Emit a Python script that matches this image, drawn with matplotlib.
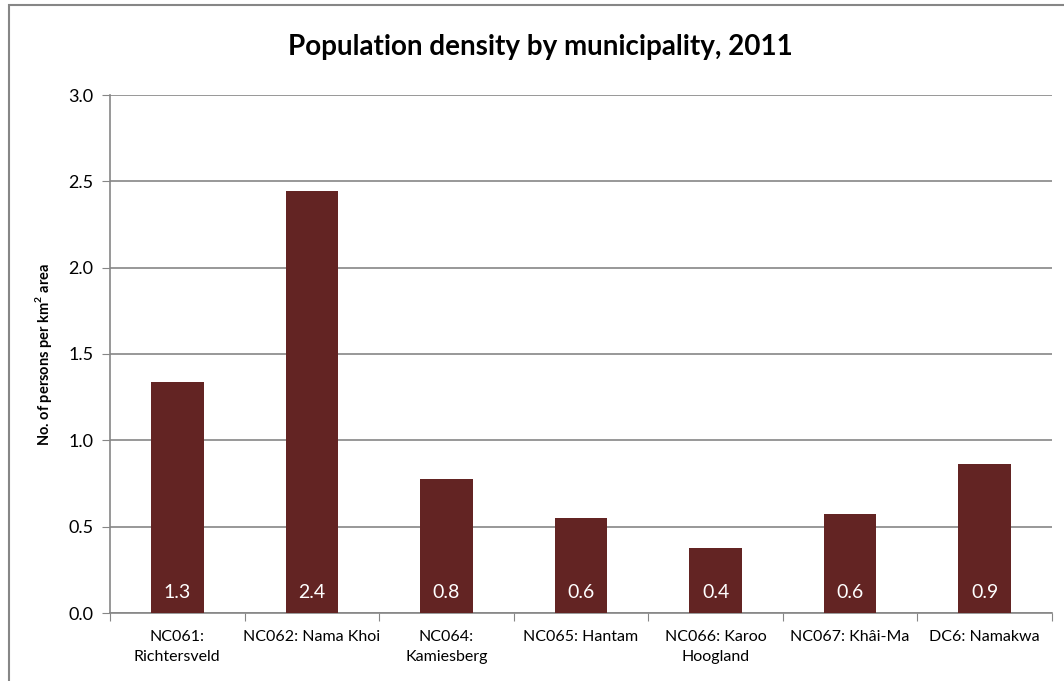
import matplotlib.pyplot as plt
from matplotlib.patches import Rectangle

categories = ['NC061:\nRichtersveld', 'NC062: Nama Khoi', 'NC064:\nKamiesberg',
              'NC065: Hantam', 'NC066: Karoo\nHoogland', 'NC067: Khâi-Ma', 'DC6: Namakwa']
density = [1.338, 2.443, 0.776, 0.55, 0.376, 0.573, 0.863]
bar_labels = ['1.3', '2.4', '0.8', '0.6', '0.4', '0.6', '0.9']

plt.rcParams['font.family'] = ['Lato', 'DejaVu Sans']
grey = '#868686'

fig = plt.figure(figsize=(10.64, 6.81), dpi=100)
W, H = 1064, 681

# outer chart border
fig.patches.append(Rectangle((9 / W, -0.1), 1.2, (681 - 5) / H + 0.1, transform=fig.transFigure,
                             fill=False, edgecolor=grey, linewidth=1.5))

ax = fig.add_axes([110 / W, (H - 613) / H, 942 / W, 518 / H])
x = range(len(categories))
ax.bar(x, density, width=0.39, color='#632423', zorder=3)

for i, lab in enumerate(bar_labels):
    ax.annotate(lab, (i, 0), xytext=(0, 9), textcoords='offset points',
                ha='center', va='bottom', color='white', fontsize=14)

ax.set_xlim(-0.5, len(categories) - 0.5)
ax.set_ylim(0, 3.0)
ax.set_yticks([0, 0.5, 1.0, 1.5, 2.0, 2.5, 3.0])
ax.set_yticklabels(['0.0', '0.5', '1.0', '1.5', '2.0', '2.5', '3.0'], fontsize=13)
ax.yaxis.grid(True, color=grey, linewidth=1.2, zorder=0)

ax.set_xticks([i + 0.5 for i in range(-1, len(categories))], minor=False)
ax.set_xticklabels([])
ax.set_xticks(list(x), minor=True)
ax.set_xticklabels(categories, minor=True, fontsize=11.5, linespacing=1.6)
ax.tick_params(axis='x', which='major', length=6, color=grey)
ax.tick_params(axis='x', which='minor', length=0, pad=12)
ax.tick_params(axis='y', length=6, color=grey, pad=6)

for side in ['top', 'right']:
    ax.spines[side].set_visible(False)
for side in ['left', 'bottom']:
    ax.spines[side].set_color(grey)
    ax.spines[side].set_linewidth(1.2)

ax.set_ylabel('No. of persons per km$^{\\mathregular{2}}$ area', fontsize=10.5,
              fontweight='bold', labelpad=10)
fig.text(540 / W, 1 - 47 / H, 'Population density by municipality, 2011',
         ha='center', va='center', fontsize=20, fontweight='bold')

fig.savefig('out.png', dpi=100)
